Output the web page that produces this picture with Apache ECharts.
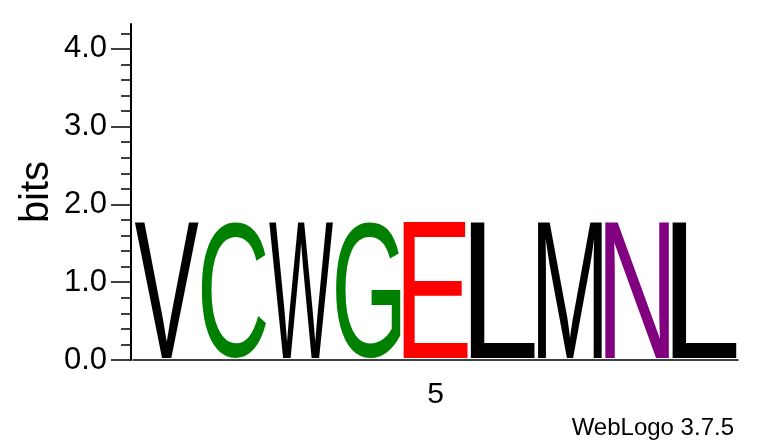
<!DOCTYPE html>
<html lang="en">

<head>
    <meta charset="UTF-8">
    <meta name="viewport" content="width=device-width, initial-scale=1.0">
    <title>WebLogo</title>
    <script src="https://cdn.jsdelivr.net/npm/echarts@6/dist/echarts.min.js"></script>
    <style>
        html, body { margin: 0; padding: 0; background: #fff; }
    </style>
</head>

<body>
    <div id="main" style="width: 760px;height: 444px;"></div>
    <script>
        // sequence positions (x categories)
        var positions = ['1', '2', '3', '4', '5', '6', '7', '8', '9']
        // residue shown at each position
        var letters = ['V', 'C', 'W', 'G', 'E', 'L', 'M', 'N', 'L']
        // stack height in bits
        var bits = [1.77, 1.77, 1.77, 1.77, 1.77, 1.77, 1.77, 1.77, 1.77]
        // axis ticks
        var xTickLabels = ['', '', '', '', '5', '', '', '', '']
        var yTicks = [0, 1, 2, 3, 4]
        var yMinorTicks = [0.2, 0.4, 0.6, 0.8, 1.2, 1.4, 1.6, 1.8, 2.2, 2.4, 2.6, 2.8,
            3.2, 3.4, 3.6, 3.8, 4.2]
        var yMax = 4.32 // log2(20)

        // chemistry colours
        var colorScheme = { C: '#008000', G: '#008000', E: '#ff0000', N: '#800080' }
        var logoFont = '200px "Liberation Sans"'
        var textFont = '"Liberation Sans", Arial, sans-serif'

        // measure the ink box of a glyph so it can be stretched to fill its stack
        var ctx = document.createElement('canvas').getContext('2d')
        ctx.font = logoFont
        ctx.textBaseline = 'middle'
        ctx.textAlign = 'left'
        function inkBox(ch) {
            var m = ctx.measureText(ch)
            return { l: m.actualBoundingBoxLeft, r: m.actualBoundingBoxRight, a: m.actualBoundingBoxAscent, d: m.actualBoundingBoxDescent }
        }

        function renderLetter(params, api) {
            var i = api.value(0)
            var ch = letters[i]
            var top = api.coord([i, api.value(1)])
            var base = api.coord([i, 0])
            var w = api.size([1, 0])[0]
            var x0 = top[0] - w / 2 + 1.5
            var x1 = top[0] + w / 2 - 1.5
            var y0 = top[1]
            var y1 = base[1] - 2
            var b = inkBox(ch)
            var sx = (x1 - x0) / (b.l + b.r)
            var sy = (y1 - y0) / (b.a + b.d)
            return {
                type: 'text',
                x: x0 + sx * b.l,
                y: y0 + sy * b.a,
                scaleX: sx,
                scaleY: sy,
                silent: true,
                style: {
                    text: ch,
                    x: 0,
                    y: 0,
                    font: logoFont,
                    fill: colorScheme[ch] || '#000',
                    align: 'left',
                    verticalAlign: 'middle'
                }
            }
        }

        var mCharts = echarts.init(document.getElementById('main'))
        var option = {
            animation: false,
            grid: { left: 133, right: 22, top: 24, bottom: 84 },
            xAxis: {
                type: 'category',
                data: positions,
                boundaryGap: true,
                axisLine: { lineStyle: { color: '#000', width: 1.5 } },
                axisTick: { alignWithLabel: true, interval: 0, length: 5, lineStyle: { color: '#000', width: 1.5 } },
                axisLabel: {
                    interval: 0,
                    margin: 20,
                    color: '#000',
                    fontSize: 30,
                    fontFamily: textFont,
                    formatter: function (v, idx) { return xTickLabels[idx] }
                },
                splitLine: { show: false }
            },
            yAxis: [{
                type: 'value',
                min: 0,
                max: yMax,
                offset: 2,
                name: 'bits',
                nameLocation: 'middle',
                nameGap: 74,
                nameMoveOverlap: false,
                nameTextStyle: { color: '#000', fontSize: 40, fontFamily: textFont },
                axisLine: { show: true, lineStyle: { color: '#000', width: 2 } },
                axisTick: { show: true, length: 20, customValues: yTicks, lineStyle: { color: '#000', width: 1.5 } },
                axisLabel: {
                    customValues: yTicks,
                    margin: 24,
                    color: '#000',
                    fontSize: 31,
                    fontFamily: textFont,
                    formatter: function (v) { return v.toFixed(1) }
                },
                splitLine: { show: false }
            }, {
                type: 'value',
                min: 0,
                max: yMax,
                offset: 2,
                position: 'left',
                axisLine: { show: false },
                axisTick: { show: true, length: 10, customValues: yMinorTicks, lineStyle: { color: '#000', width: 1.5 } },
                axisLabel: { show: false },
                splitLine: { show: false }
            }],
            graphic: [{
                type: 'text',
                right: 26,
                top: 416,
                style: { text: 'WebLogo 3.7.5', font: '24px ' + textFont, fill: '#000' }
            }],
            series: [{
                type: 'custom',
                renderItem: renderLetter,
                data: letters.map(function (ch, i) { return [i, bits[i]] })
            }]
        }
        mCharts.setOption(option)
    </script>
</body>

</html>
